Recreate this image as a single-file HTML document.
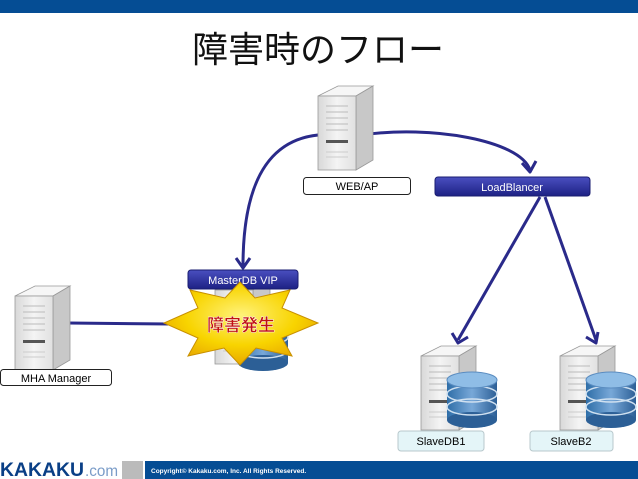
<!DOCTYPE html>
<html><head><meta charset="utf-8"><style>
html,body{margin:0;padding:0;background:#fff;width:638px;height:479px;overflow:hidden}
svg{display:block}
text{font-family:"Liberation Sans","Noto Sans CJK JP",sans-serif}
</style></head><body>
<svg width="638" height="479" viewBox="0 0 638 479" xmlns="http://www.w3.org/2000/svg">
<defs>
<linearGradient id="bl" x1="0" y1="0" x2="0" y2="1"><stop offset="0" stop-color="#4a4fc0"/><stop offset="1" stop-color="#1d2184"/></linearGradient>
<linearGradient id="fr" x1="0" y1="0" x2="1" y2="0"><stop offset="0" stop-color="#d8d8d8"/><stop offset=".5" stop-color="#f4f4f4"/><stop offset="1" stop-color="#e0e0e0"/></linearGradient>
<linearGradient id="db" x1="0" y1="0" x2="1" y2="0"><stop offset="0" stop-color="#2f6ea8"/><stop offset=".5" stop-color="#78a8d8"/><stop offset="1" stop-color="#2c5f96"/></linearGradient>
<radialGradient id="st" cx=".5" cy=".4" r=".6"><stop offset="0" stop-color="#fff27a"/><stop offset=".6" stop-color="#f8d400"/><stop offset="1" stop-color="#e8a800"/></radialGradient>
<g id="srv">
<polygon points="0,12 20,2 55,2 38,12" fill="#f6f6f6" stroke="#999" stroke-width=".8"/>
<polygon points="38,12 55,2 55,76 38,86" fill="#c8c8c8" stroke="#999" stroke-width=".8"/>
<rect x="0" y="12" width="38" height="74" fill="url(#fr)" stroke="#999" stroke-width=".8"/>
<g stroke="#bbb" stroke-width="1"><line x1="8" y1="22" x2="30" y2="22"/><line x1="8" y1="28" x2="30" y2="28"/><line x1="8" y1="34" x2="30" y2="34"/><line x1="8" y1="40" x2="30" y2="40"/><line x1="8" y1="46" x2="30" y2="46"/></g>
<rect x="8" y="56" width="22" height="3" fill="#555"/>
<g stroke="#ccc"><line x1="8" y1="68" x2="30" y2="68"/><line x1="8" y1="73" x2="30" y2="73"/></g>
</g>
<g id="cyl">
<rect x="0" y="8" width="50" height="40" fill="url(#db)"/>
<ellipse cx="25" cy="48" rx="25" ry="8" fill="#2c5f96"/>
<ellipse cx="25" cy="35" rx="25" ry="8" fill="none" stroke="#cfe0f0" stroke-width="1.5"/>
<ellipse cx="25" cy="22" rx="25" ry="8" fill="none" stroke="#cfe0f0" stroke-width="1.5"/>
<ellipse cx="25" cy="8" rx="25" ry="8" fill="#8fbde6" stroke="#5a8cc0"/>
</g>
</defs>
<rect x="0" y="0" width="638" height="13" fill="#054d94"/>
<text x="318" y="62" font-size="36" text-anchor="middle" fill="#111">障害時のフロー</text>

<g fill="none" stroke="#2a2a8a" stroke-width="3">
<path d="M318,135 C270,140 243,180 243,266"/>
<path d="M362,135 C430,125 520,140 530,170"/>
<path d="M540,197 L458,340"/>
<path d="M545,197 L596,340"/>
<path d="M68,323 L170,324"/>
</g>
<g fill="none" stroke="#2a2a8a" stroke-width="3" stroke-linejoin="round">
<polyline points="236,258 243,268 250,258"/>
<polyline points="522,163 530,172 536,161"/>
<polyline points="452,333 458,343 468,337"/>
<polyline points="586,337 596,343 598,332"/>
</g>

<use href="#srv" x="318" y="84"/>
<rect x="303.5" y="177.5" width="107" height="17" rx="3" fill="#fff" stroke="#222"/>
<text x="357" y="190" font-size="11" text-anchor="middle">WEB/AP</text>

<rect x="435" y="177" width="155" height="19" rx="3" fill="url(#bl)" stroke="#1a1d70"/>
<text x="512" y="191" font-size="11" text-anchor="middle" fill="#fff">LoadBlancer</text>

<use href="#srv" x="215" y="278"/>
<use href="#cyl" x="238" y="315"/>
<rect x="188" y="270" width="110" height="19" rx="3" fill="url(#bl)" stroke="#1a1d70"/>
<text x="243" y="284" font-size="11" text-anchor="middle" fill="#fff">MasterDB VIP</text>
<polygon points="240,282 255,298 290,290 282,308 318,323 282,338 292,356 256,348 240,365 224,348 188,356 198,338 164,323 198,308 190,290 225,298" fill="url(#st)" stroke="#c89000"/>
<text x="241" y="331" font-size="17" font-weight="bold" text-anchor="middle" fill="#c01010" stroke="#fff" stroke-width=".4">障害発生</text>

<use href="#srv" x="15" y="284"/>
<rect x="0.5" y="369.5" width="111" height="16" rx="3" fill="#fff" stroke="#222"/>
<text x="56" y="382" font-size="11" text-anchor="middle">MHA Manager</text>

<use href="#srv" x="421" y="344"/>
<use href="#cyl" x="447" y="372"/>
<rect x="398" y="431" width="86" height="20" rx="3" fill="#e4f5f8" stroke="#b8c8cc"/>
<text x="441" y="445" font-size="11" text-anchor="middle">SlaveDB1</text>
<use href="#srv" x="560" y="344"/>
<use href="#cyl" x="586" y="372"/>
<rect x="530" y="431" width="83" height="20" rx="3" fill="#e4f5f8" stroke="#b8c8cc"/>
<text x="571" y="445" font-size="11" text-anchor="middle">SlaveB2</text>

<text x="0" y="476" font-size="19" font-weight="bold" fill="#0a3f86" textLength="84" lengthAdjust="spacingAndGlyphs">KAKAKU</text>
<text x="85" y="476" font-size="16" fill="#7a9cc8" textLength="33" lengthAdjust="spacingAndGlyphs">.com</text>
<rect x="122" y="461" width="21" height="18" fill="#bbb"/>
<rect x="145" y="461" width="493" height="18" fill="#054d94"/>
<text x="151" y="473" font-size="6.5" fill="#fff" font-weight="bold">Copyright© Kakaku.com, Inc. All Rights Reserved.</text>
</svg>
</body></html>
